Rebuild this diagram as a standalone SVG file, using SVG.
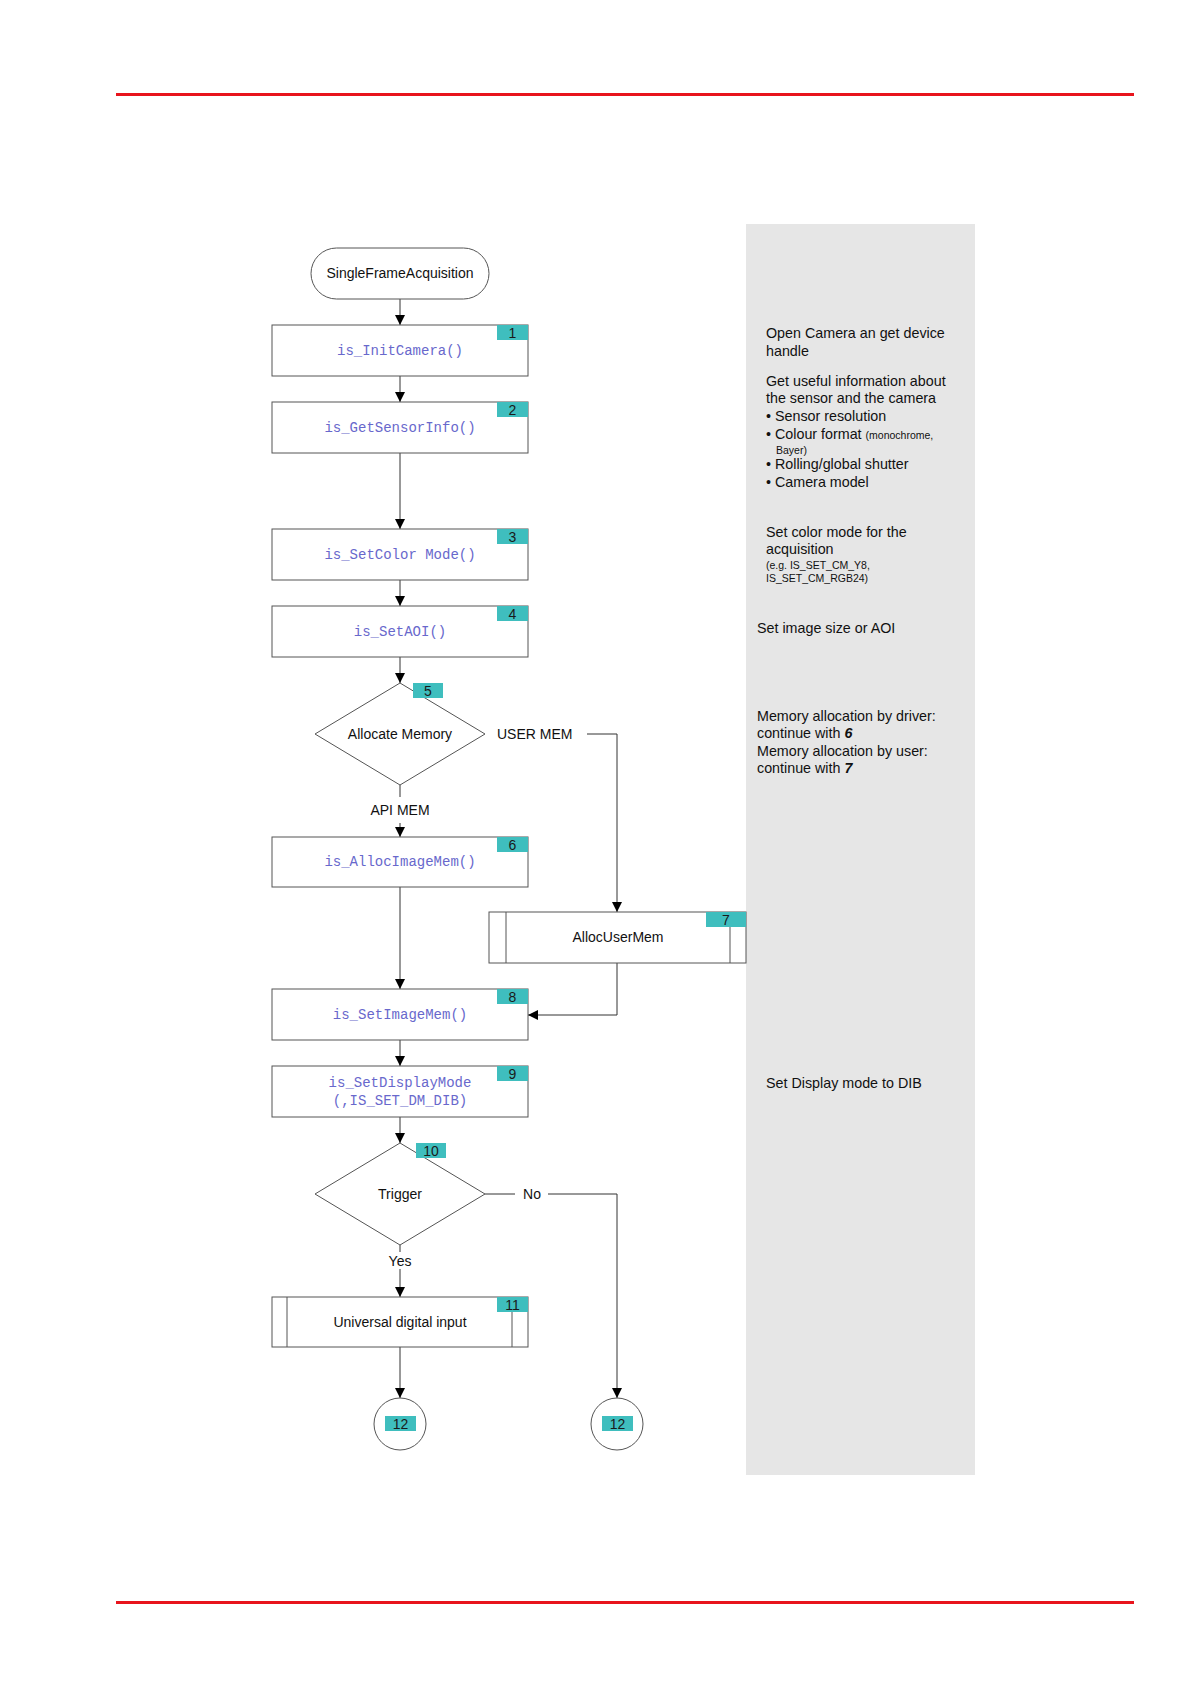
<svg xmlns="http://www.w3.org/2000/svg" width="1190" height="1684" viewBox="0 0 1190 1684">
<defs>
<marker id="arr" markerUnits="userSpaceOnUse" markerWidth="12" markerHeight="12" refX="10" refY="5" orient="auto">
<path d="M0,0 L10,5 L0,10 Z" fill="#000"/>
</marker>
</defs>
<style>
.box{fill:#fff;stroke:#555;stroke-width:1}
.inner{stroke:#555;stroke-width:1}
.badge{fill:#3fbebe}
.bt{font-family:"Liberation Sans",Arial,sans-serif;font-size:14px;fill:#1a1a1a;text-anchor:middle}
.code{font-family:"Liberation Mono","Courier New",monospace;font-size:14px;fill:#6868cc;text-anchor:middle}
.lbl{font-family:"Liberation Sans",Arial,sans-serif;font-size:14px;fill:#111;text-anchor:middle}
.note{font-family:"Liberation Sans",Arial,sans-serif;font-size:14.3px;fill:#111}
.small{font-size:10.5px}
.con{fill:none;stroke:#333;stroke-width:1}
.arr{marker-end:url(#arr)}
</style>
<rect x="0" y="0" width="1190" height="1684" fill="#fff"/>
<rect x="116" y="93" width="1018" height="3" fill="#e8141c"/>
<rect x="116" y="1601" width="1018" height="3" fill="#e8141c"/>
<rect id="panel" x="746" y="224" width="229" height="1251" fill="#e6e6e6"/>

<g id="notes" class="note">
<text x="766" y="338">Open Camera an get device</text>
<text x="766" y="356">handle</text>
<text x="766" y="386">Get useful information about</text>
<text x="766" y="403">the sensor and the camera</text>
<text x="766" y="421">• Sensor resolution</text>
<text x="766" y="439">• Colour format <tspan class="small">(monochrome,</tspan></text>
<text x="776" y="454" class="small">Bayer)</text>
<text x="766" y="469">• Rolling/global shutter</text>
<text x="766" y="487">• Camera model</text>
<text x="766" y="537">Set color mode for the</text>
<text x="766" y="554">acquisition</text>
<text x="766" y="569" class="small">(e.g. IS_SET_CM_Y8,</text>
<text x="766" y="582" class="small">IS_SET_CM_RGB24)</text>
<text x="757" y="633">Set image size or AOI</text>
<text x="757" y="721">Memory allocation by driver:</text>
<text x="757" y="738">continue with <tspan font-weight="bold" font-style="italic">6</tspan></text>
<text x="757" y="756">Memory allocation by user:</text>
<text x="757" y="773">continue with <tspan font-weight="bold" font-style="italic">7</tspan></text>
<text x="766" y="1088">Set Display mode to DIB</text>
</g>

<g id="connectors">
<line class="con arr" x1="400" y1="299" x2="400" y2="325"/>
<line class="con arr" x1="400" y1="376" x2="400" y2="402"/>
<line class="con arr" x1="400" y1="453" x2="400" y2="529"/>
<line class="con arr" x1="400" y1="580" x2="400" y2="606"/>
<line class="con arr" x1="400" y1="657" x2="400" y2="683"/>
<line class="con" x1="400" y1="785" x2="400" y2="797"/>
<text class="lbl" x="400" y="815">API MEM</text>
<line class="con arr" x1="400" y1="823" x2="400" y2="837"/>
<text class="lbl" x="497" y="739" style="text-anchor:start">USER MEM</text>
<polyline class="con arr" points="587,734 617,734 617,912"/>
<line class="con arr" x1="400" y1="887" x2="400" y2="989"/>
<polyline class="con arr" points="617,963 617,1015 528,1015"/>
<line class="con arr" x1="400" y1="1040" x2="400" y2="1066"/>
<line class="con arr" x1="400" y1="1117" x2="400" y2="1143"/>
<line class="con" x1="400" y1="1245" x2="400" y2="1252"/>
<text class="lbl" x="400" y="1266">Yes</text>
<line class="con arr" x1="400" y1="1269" x2="400" y2="1297"/>
<line class="con" x1="485" y1="1194" x2="515" y2="1194"/>
<text class="lbl" x="532" y="1199">No</text>
<polyline class="con arr" points="548,1194 617,1194 617,1398"/>
<line class="con arr" x1="400" y1="1347" x2="400" y2="1398"/>
</g>

<g id="start">
<rect class="box" x="311" y="248" width="178" height="51" rx="25.5"/>
<text class="lbl" x="400" y="278">SingleFrameAcquisition</text>
</g>

<g id="n1">
<rect class="box" x="272" y="325" width="256" height="51"/>
<rect class="badge" x="497" y="325" width="31" height="15"/>
<text class="bt" x="512.5" y="338">1</text>
<text class="code" x="400" y="355">is_InitCamera()</text>
</g>
<g id="n2">
<rect class="box" x="272" y="402" width="256" height="51"/>
<rect class="badge" x="497" y="402" width="31" height="15"/>
<text class="bt" x="512.5" y="415">2</text>
<text class="code" x="400" y="432">is_GetSensorInfo()</text>
</g>
<g id="n3">
<rect class="box" x="272" y="529" width="256" height="51"/>
<rect class="badge" x="497" y="529" width="31" height="15"/>
<text class="bt" x="512.5" y="542">3</text>
<text class="code" x="400" y="559">is_SetColor Mode()</text>
</g>
<g id="n4">
<rect class="box" x="272" y="606" width="256" height="51"/>
<rect class="badge" x="497" y="606" width="31" height="15"/>
<text class="bt" x="512.5" y="619">4</text>
<text class="code" x="400" y="636">is_SetAOI()</text>
</g>
<g id="n5">
<polygon class="box" points="400,683 485,734 400,785 315,734"/>
<rect class="badge" x="413" y="683" width="30" height="15"/>
<text class="bt" x="428" y="696">5</text>
<text class="lbl" x="400" y="739">Allocate Memory</text>
</g>
<g id="n6">
<rect class="box" x="272" y="837" width="256" height="50"/>
<rect class="badge" x="497" y="837" width="31" height="15"/>
<text class="bt" x="512.5" y="850">6</text>
<text class="code" x="400" y="866">is_AllocImageMem()</text>
</g>
<g id="n7">
<rect class="box" x="489" y="912" width="257" height="51"/>
<line class="inner" x1="506" y1="912" x2="506" y2="963"/>
<line class="inner" x1="730" y1="927" x2="730" y2="963"/>
<rect class="badge" x="706" y="912" width="40" height="15"/>
<text class="bt" x="726" y="925">7</text>
<text class="lbl" x="618" y="942">AllocUserMem</text>
</g>
<g id="n8">
<rect class="box" x="272" y="989" width="256" height="51"/>
<rect class="badge" x="497" y="989" width="31" height="15"/>
<text class="bt" x="512.5" y="1002">8</text>
<text class="code" x="400" y="1019">is_SetImageMem()</text>
</g>
<g id="n9">
<rect class="box" x="272" y="1066" width="256" height="51"/>
<rect class="badge" x="497" y="1066" width="31" height="15"/>
<text class="bt" x="512.5" y="1079">9</text>
<text class="code" x="400" y="1087">is_SetDisplayMode</text>
<text class="code" x="400" y="1105">(,IS_SET_DM_DIB)</text>
</g>
<g id="n10">
<polygon class="box" points="400,1143 485,1194 400,1245 315,1194"/>
<rect class="badge" x="416" y="1143" width="30" height="15"/>
<text class="bt" x="431" y="1156">10</text>
<text class="lbl" x="400" y="1199">Trigger</text>
</g>
<g id="n11">
<rect class="box" x="272" y="1297" width="256" height="50"/>
<line class="inner" x1="287" y1="1297" x2="287" y2="1347"/>
<line class="inner" x1="512" y1="1312" x2="512" y2="1347"/>
<rect class="badge" x="497" y="1297" width="31" height="15"/>
<text class="bt" x="512.5" y="1310">11</text>
<text class="lbl" x="400" y="1327">Universal digital input</text>
</g>
<g id="n12a">
<circle class="box" cx="400" cy="1424" r="26"/>
<rect class="badge" x="385" y="1416" width="31" height="15"/>
<text class="bt" x="400.5" y="1429">12</text>
</g>
<g id="n12b">
<circle class="box" cx="617" cy="1424" r="26"/>
<rect class="badge" x="602" y="1416" width="31" height="15"/>
<text class="bt" x="617.5" y="1429">12</text>
</g>
</svg>
